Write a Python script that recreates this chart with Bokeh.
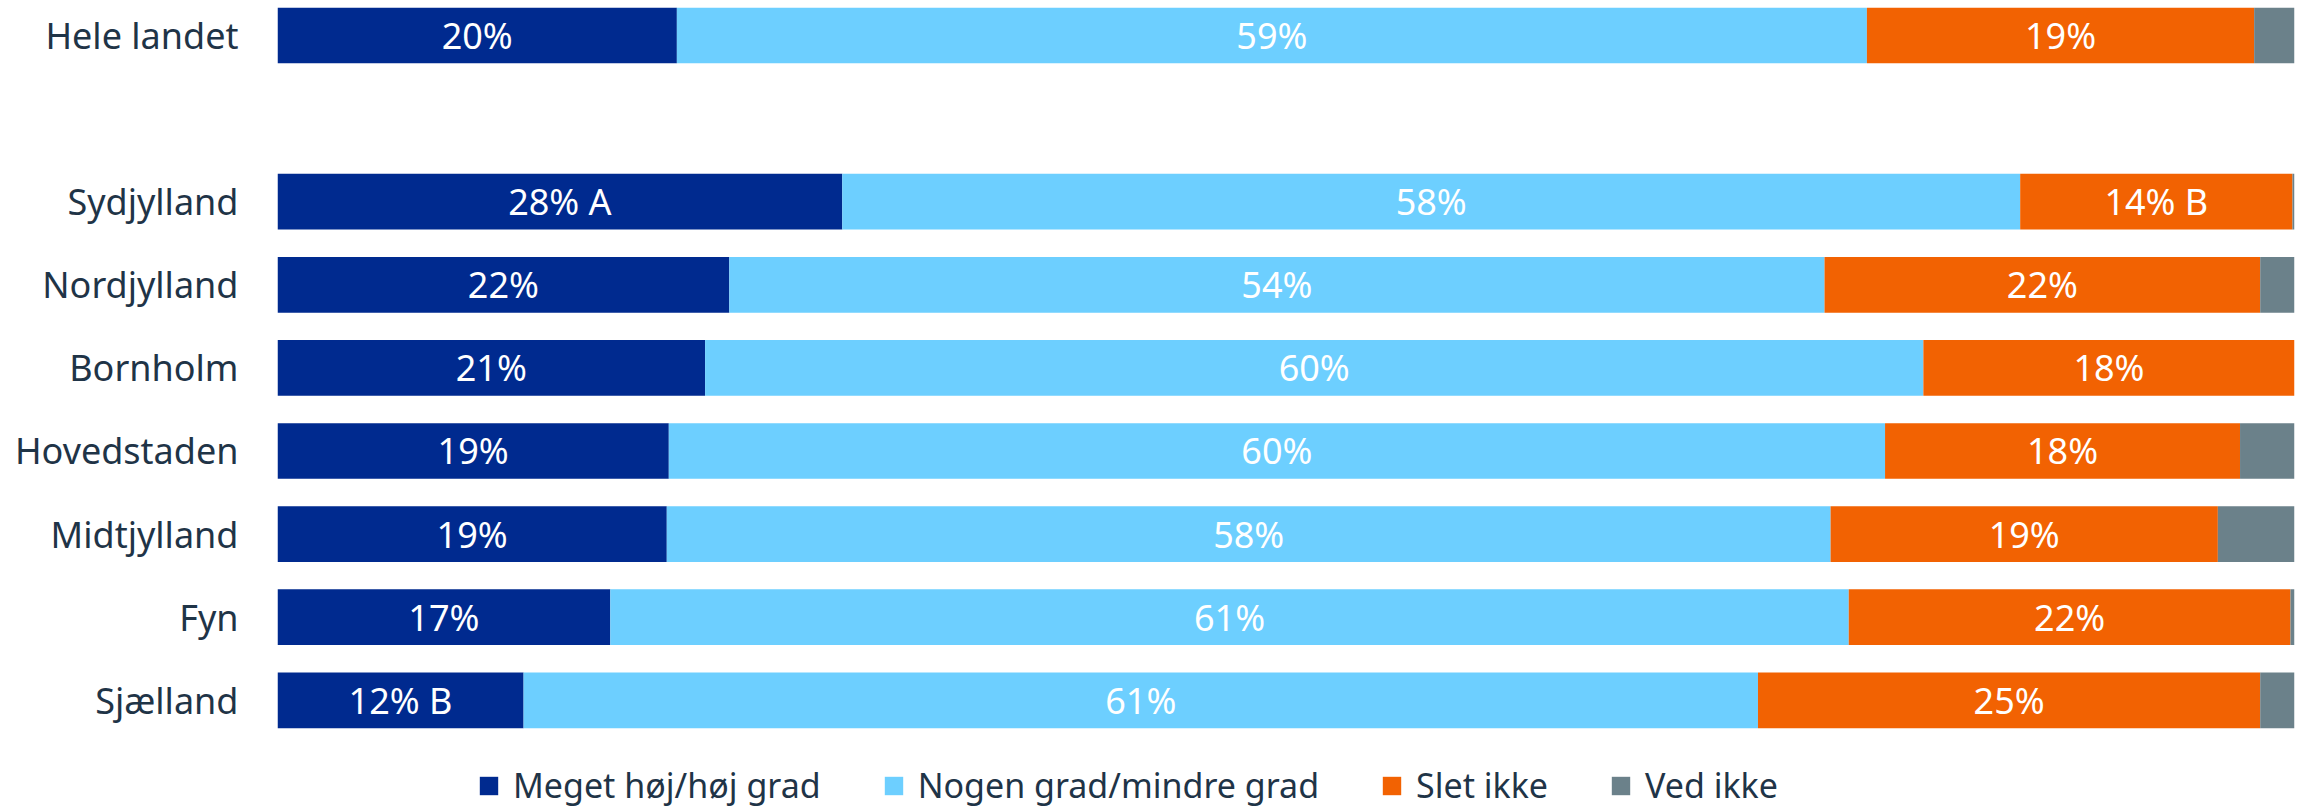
from bokeh.plotting import figure
from bokeh.models import ColumnDataSource, Range1d, FixedTicker, Legend, LegendItem
from bokeh.embed import file_html
from bokeh.resources import INLINE
from bokeh.core.properties import value

# ---- data ----
rows = ["Hele landet", "", "Sydjylland", "Nordjylland", "Bornholm", "Hovedstaden",
        "Midtjylland", "Fyn", "Sjælland"]
categories = [r for r in rows if r]
series = ["Meget høj/høj grad", "Nogen grad/mindre grad", "Slet ikke", "Ved ikke"]
hoej = [19.8, 28.0, 22.4, 21.2, 19.4, 19.3, 16.5, 12.2]
nogen = [59.0, 58.4, 54.3, 60.4, 60.3, 57.7, 61.4, 61.2]
slet = [19.2, 13.5, 21.6, 18.4, 17.6, 19.2, 21.9, 24.9]
vedikke = [2.0, 0.1, 1.7, 0.0, 2.7, 3.8, 0.2, 1.7]
labels_hoej = ["20%", "28% A", "22%", "21%", "19%", "19%", "17%", "12% B"]
labels_nogen = ["59%", "58%", "54%", "60%", "60%", "58%", "61%", "61%"]
labels_slet = ["19%", "14% B", "22%", "18%", "18%", "19%", "22%", "25%"]
colors = ["#002A8F", "#6DCFFF", "#F26202", "#6B818A"]

# ---- derived ----
ypos = [rows.index(c) for c in categories]
keys = ["s0", "s1", "s2", "s3"]
vals = [hoej, nogen, slet, vedikke]
data = dict(y=ypos, cat=categories)
for k, v in zip(keys, vals):
    data[k] = v
src = ColumnDataSource(data)

FONT = "Noto Sans"
TXT = "#1F3447"

p = figure(width=2306, height=809, output_backend="svg", toolbar_location=None,
           x_range=Range1d(0, 100), y_range=Range1d(9.314, -0.421),
           min_border_left=277, min_border_right=12, min_border_top=0,
           min_border_bottom=0, outline_line_color=None)
p.grid.visible = False
p.xaxis.visible = False

renderers = p.hbar_stack(keys, y="y", height=0.67, color=colors, source=src,
                         line_color=None)

# labels
cum = [0.0] * len(categories)
for v, labs in zip(vals[:3], [labels_hoej, labels_nogen, labels_slet]):
    xs = [c + x / 2 for c, x in zip(cum, v)]
    cum = [c + x for c, x in zip(cum, v)]
    p.text(x=xs, y=ypos, text=labs, text_align="center", text_baseline="middle",
           text_color="white", text_font=value(FONT), text_font_size="36px")

yax = p.yaxis[0]
yax.ticker = FixedTicker(ticks=ypos)
yax.major_label_overrides = {y: c for y, c in zip(ypos, categories)}
yax.axis_line_color = None
yax.major_tick_line_color = None
yax.minor_tick_line_color = None
yax.major_tick_out = 0
yax.major_label_standoff = 39
yax.major_label_text_font = FONT
yax.major_label_text_font_size = "36px"
yax.major_label_text_color = TXT

legend = Legend(items=[LegendItem(label=s, renderers=[r]) for s, r in zip(series, renderers)],
                orientation="horizontal", location=(200, 1),
                glyph_width=23, glyph_height=23, label_standoff=13, spacing=61,
                label_text_font=FONT, label_text_font_size="34px",
                label_text_color=TXT, border_line_color=None,
                background_fill_alpha=0, padding=0, margin=0)
p.add_layout(legend, "center")

open("out.html", "w").write(file_html(p, INLINE))
